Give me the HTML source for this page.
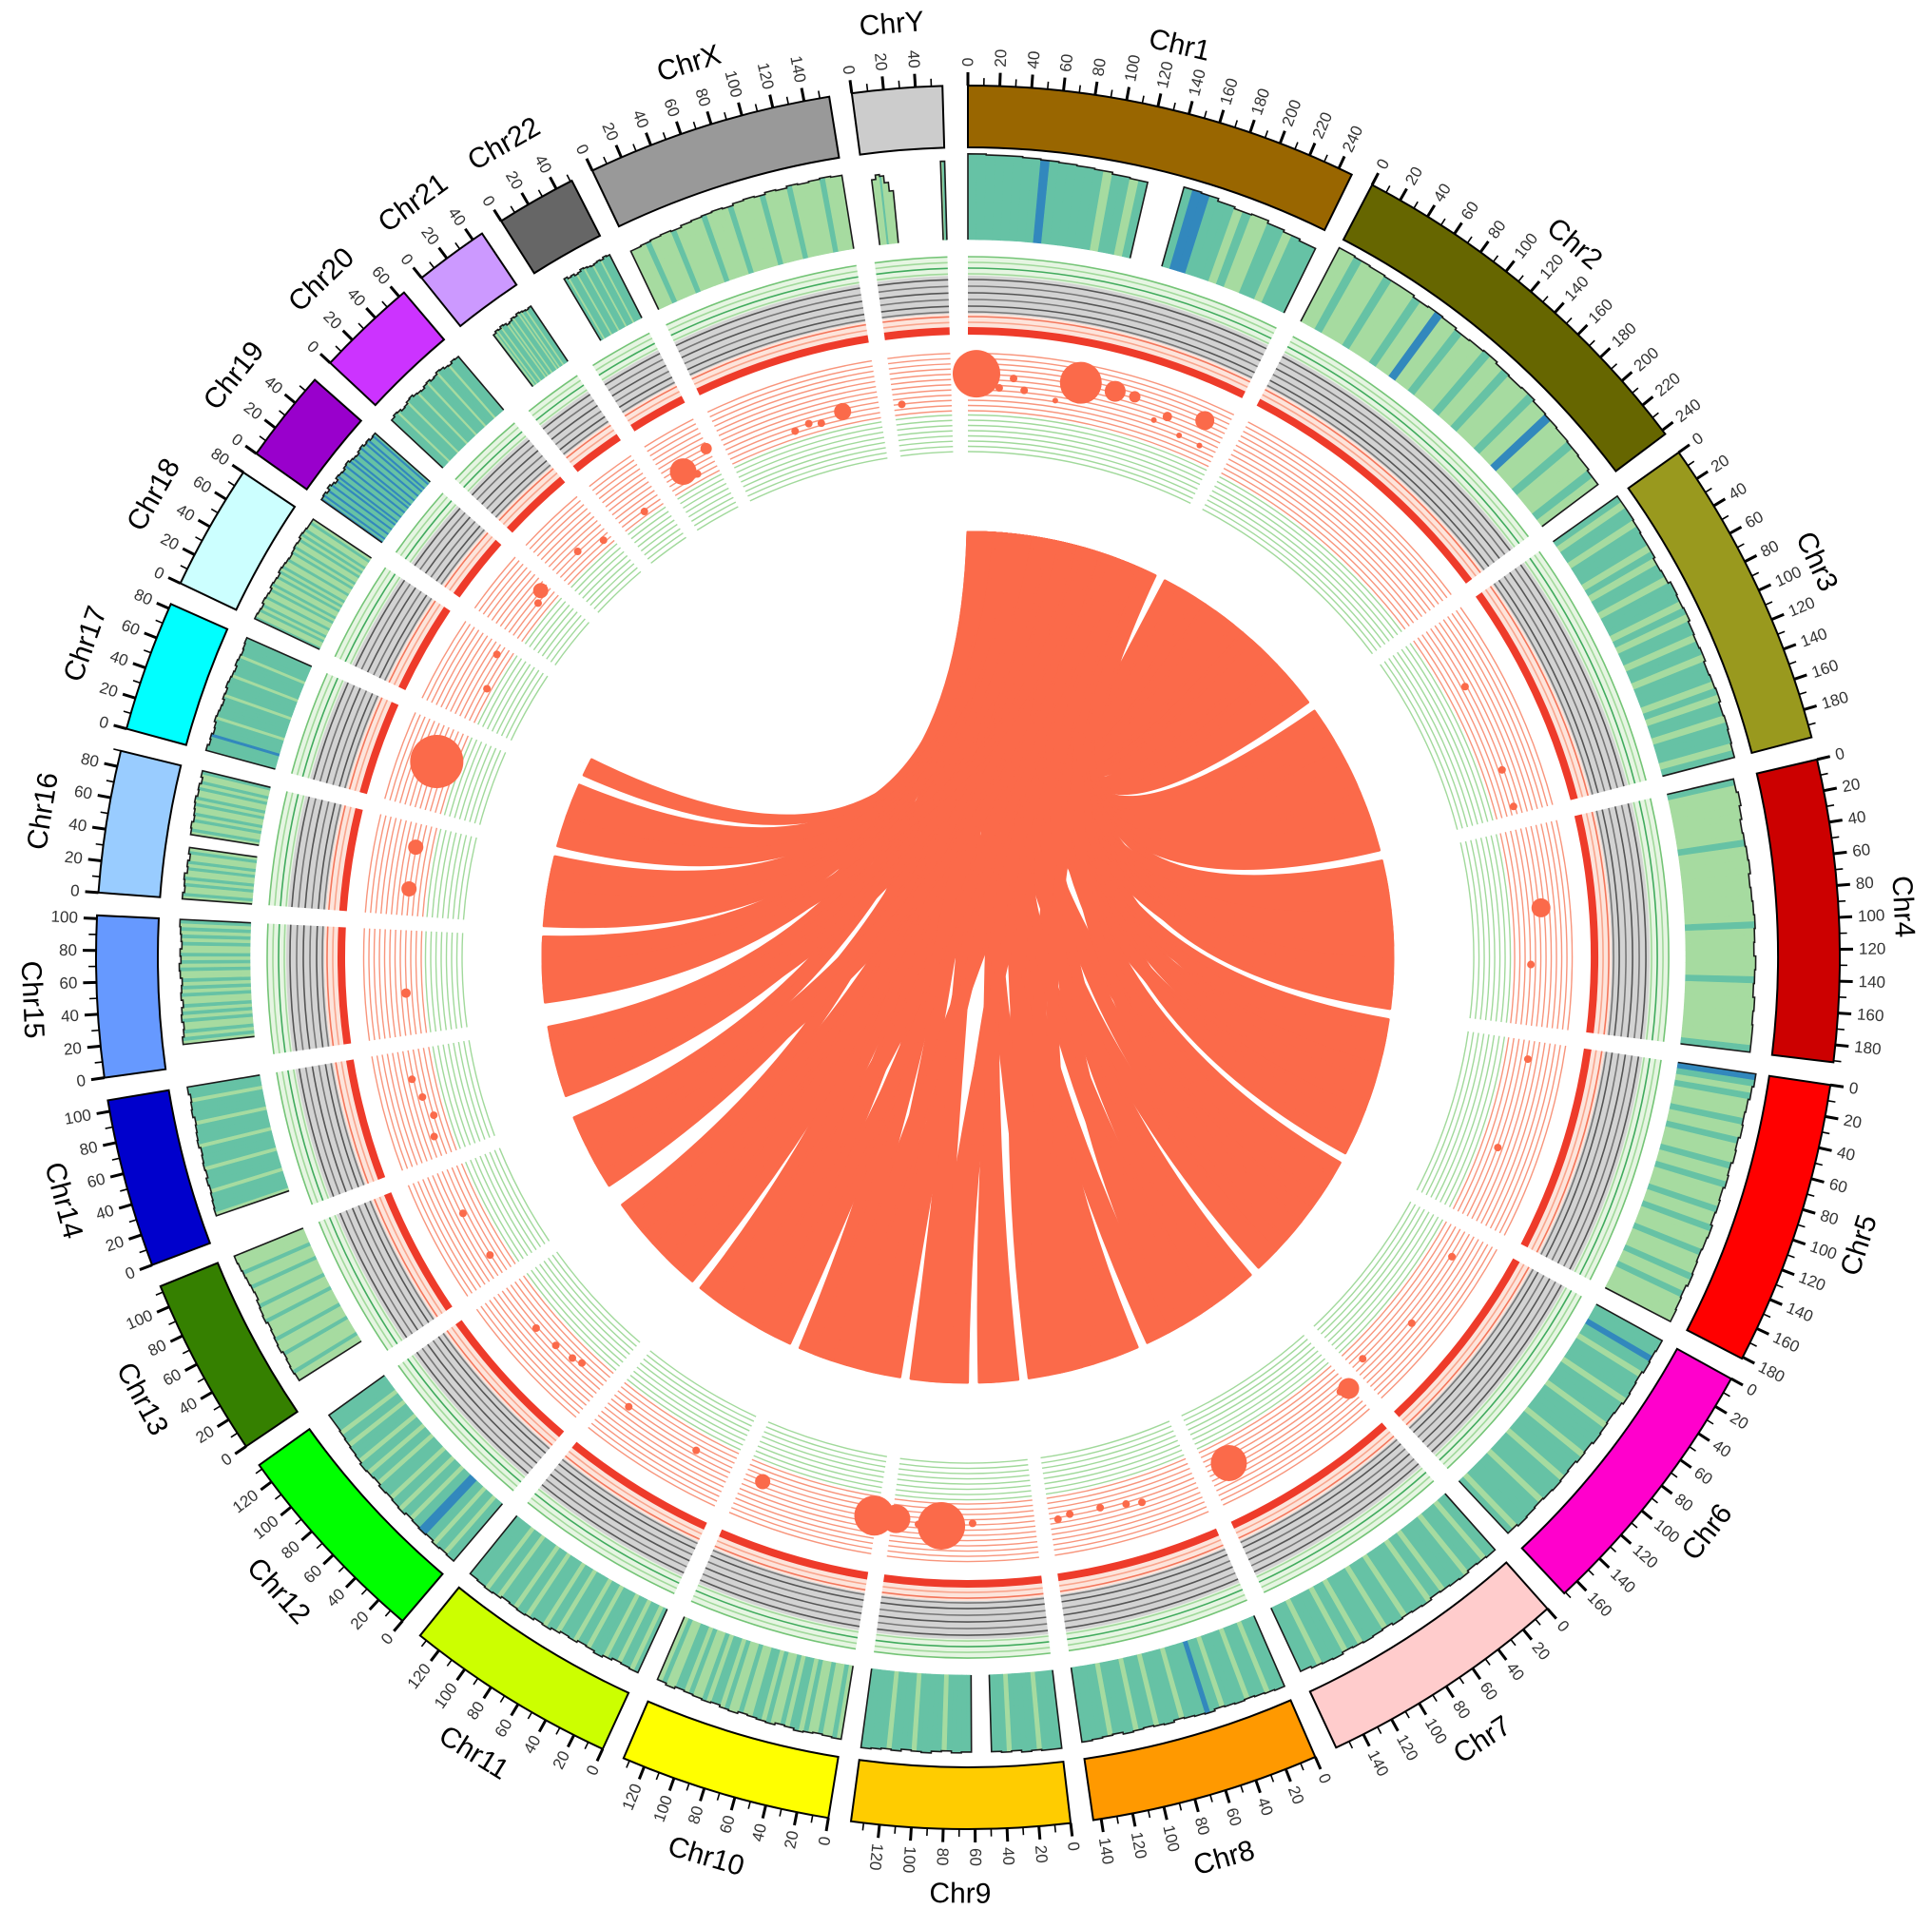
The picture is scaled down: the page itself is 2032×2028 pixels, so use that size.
<!DOCTYPE html>
<html><head><meta charset="utf-8"><title>Circos genome plot</title>
<style>
html,body{margin:0;padding:0;background:#fff;}
svg{display:block;font-family:"Liberation Sans",Arial,sans-serif;}
</style></head>
<body>
<svg id="chart" width="2032" height="2028" viewBox="0 0 2032 2028" xmlns="http://www.w3.org/2000/svg">
<rect x="0" y="0" width="2032" height="2028" fill="#ffffff"/>
<g id="chords"></g>
<g id="tracks"></g>
<g id="ideo"></g>
</svg>
<script>
// ---------- data ----------
const chrNames = ["Chr1","Chr2","Chr3","Chr4","Chr5","Chr6","Chr7","Chr8","Chr9","Chr10","Chr11","Chr12","Chr13","Chr14","Chr15","Chr16","Chr17","Chr18","Chr19","Chr20","Chr21","Chr22","ChrX","ChrY"];
const chrLens = [249,243,198,191,181,171,159,145,138,134,135,133,114,107,102,90,83,80,59,64,47,51,156,57];
const chrColors = ["#996600","#666600","#99991e","#cc0000","#ff0000","#ff00cc","#ffcccc","#ff9900","#ffcc00","#ffff00","#ccff00","#00ff00","#358000","#0000cc","#6699ff","#99ccff","#00ffff","#ccffff","#9900cc","#cc33ff","#cc99ff","#666666","#999999","#cccccc"];

const histVals = [
 [.98,.97,.97,.96,.95,.94,.93,.92,.9,.89,0,0,.94,.93,.9,.88,.89,.86,.84,.82],
 [.95,.94,.93,.92,.92,.9,.91,.9,.88,.89,.9,.88,.87,.88,.86,.85,.84,.83,.82,.8],
 [.9,.9,.89,.88,.88,.86,.87,.9,.89,.9,.88,.87,.88,.86,.87,.88,.86,.87,.86,.85],
 [.78,.8,.78,.76,.77,.78,.79,.77,.78,.79,.8,.79,.78,.8,.79,.78,.8,.79,.8,.8],
 [.9,.88,.86,.85,.86,.84,.85,.83,.84,.82,.83,.82,.84,.83,.82,.83,.84,.82,.83,.84],
 [.86,.85,.86,.84,.85,.86,.84,.83,.84,.85,.83,.84,.82,.83,.84,.83,.82,.83,.84,.82],
 [.86,.85,.84,.86,.85,.84,.83,.85,.84,.83,.84,.82,.83,.84,.83,.82,.84,.83,.82,.8],
 [.88,.87,.86,.85,.86,.85,.84,.86,.85,.84,.83,.85,.84,.83,.84,.85,.83,.84,.85,.86],
 [.9,.9,.89,.9,.88,.89,.88,0,0,.88,.89,.87,.88,.9,.89,.88,.9,.89,.9,.91],
 [.85,.84,.83,.84,.85,.83,.82,.84,.83,.82,.81,.83,.82,.8,.81,.8,.79,.78,.8,.78],
 [.8,.79,.78,.8,.82,.8,.79,.81,.8,.82,.84,.83,.85,.86,.85,.84,.86,.87,.86,.85],
 [.86,.85,.86,.84,.85,.84,.83,.85,.84,.83,.84,.82,.83,.84,.82,.81,.8,.79,.78,.78],
 [0,0,0,.84,.85,.84,.83,.85,.84,.83,.82,.84,.83,.82,.8,.81,.82,.83,.84,.85],
 [0,0,0,.88,.87,.86,.85,.86,.84,.85,.84,.83,.85,.84,.83,.82,.84,.83,.82,.84],
 [0,0,0,.82,.8,.79,.81,.8,.78,.8,.79,.78,.8,.81,.79,.8,.78,.79,.8,.81],
 [.8,.78,.79,.8,.77,.78,.76,.78,0,0,.79,.8,.78,.79,.8,.81,.79,.8,.78,.8],
 [.82,.8,.81,.79,.8,.82,.81,.8,.79,.81,.8,.82,.81,.8,.79,.81,.8,.79,.8,.81],
 [.82,.81,.8,.82,.81,.8,.82,.81,.8,.82,.81,.8,.79,.8,.81,.8,.82,.81,.8,.8],
 [.85,.86,.84,.87,.85,.83,.86,.85,.84,.86,.87,.85,.84,.83,.85,.86,.84,.85,.83,.84],
 [.8,.82,.81,.79,.8,.82,.83,.81,.8,.79,.81,.82,.8,.81,.83,.82,.8,.79,.81,.8],
 [0,0,0,0,0,0,.74,.76,.75,.77,.76,.74,.75,.77,.76,.78,.77,.76,.75,.76],
 [0,0,0,0,0,0,.82,.8,.81,.79,.8,.82,.81,.8,.79,.8,.81,.8,.82,.81],
 [.74,.75,.76,.77,.76,.78,.79,.8,.81,.8,.82,.83,.82,.84,.83,.85,.84,.85,.86,.85],
 [0,0,.75,.8,.78,.7,.6,0,0,0,0,0,0,0,0,0,0,0,0,.9]
];
const histColors = [
 "TTTTTTTTBTTTTTTLTTLTLLTTTBBTTTLTLLTTLTTT",
 "LLTLLLTLLLTLLBLLTLLLTLLTLLLTLLBLLLTLLLTL",
 "TLTTLTTTLTLTTLTTTLTLTTLTTLTTTLTLTTLTTTLT",
 "TLLLLLLLLTLLLLLLLLLLLTLLLLLLLTLLLLLLLLLT",
 "BTLTLLLTLLTLLLTLLTLLLTLLTLLLTLLLTLLTLLLL",
 "TTTBTTLTTTTLTTTTLTTTTTLTTTTLTTTTLTTTTTLT",
 "TTLTTTLTTTTLTTLTTTTLTTTLTTTTLTTLTTTTLTTT",
 "TTTLTTTLTTTTLTTBTTTTLTTTTLTTTLTTTTLTTTTT",
 "TTTTLTTTTTLTTTTTTLTTTTTLTTTTTLTTTTLTTTTT",
 "LTLLTLLTLTTLTLLTLTTLLTLLTLTTLTLLTLTTLLTL",
 "TLTTLTTLTTTLTTLTTTLTTLTTTLTTLTTTLTTLTTTT",
 "TTLTTLTTBBTTLTTLTTLTTTLTTLTTLTTTLTTLTTTT",
 "LLLLTLLLTLLLLTLLLTLLLLTLLLTLLLLTLLLTLLLL",
 "TTTTTTLTTTTTLTTTTTLTTTTTLTTTTTLTTTTTLTTT",
 "TLTLTLLTLTLLTLTLTLLTLTLTLLTLTLTLLTLTLTLT",
 "LTLLTLTLLTLTLLTLTLLTLTLLTLTLLTLTLLTLTLLT",
 "TTTTTBTTTTTLTTTTTTTLTTTTTTLTTTTTTLTTTTTT",
 "TLLTLTLLTLLTLTLLTLTLTLLTLLTLTLLTLTLTLLTL",
 "BTBTTBTTBTTBTBTTBTTBTTBTBTTBTTBTTBTBTTBT",
 "TTTTLTTTTTLTTTTTLTTTTTLTTTTTLTTTTTLTTTTT",
 "TTTTTTTTTTTTTLTLTTLTTTLTLTTLTTTLTLTTLTTT",
 "TTTTTTTTTTTTTTLTTTTLTTTTLTTTTLTTTTLTTTTT",
 "LLLTLLLLTLLLLLTLLLLTLLLLLTLLLLTLLLLLTLLL",
 "LLLLLLLLTLLLLLLLLLLLLLLLLLLLLLLLLLLLLLLT"
];

const bubChr  = [0,0,0,0,0,0,0,0,0,0,0,0,0, 22,22,22,22, 23, 21,21,21, 20, 19,19, 18,18, 17,17, 16,16,16,16, 15,15, 14, 13,13,13,13, 12,12, 11,11,11,11, 10,10, 9,9, 8,8,8,8, 7,7,7,7,7, 6,6,6,6, 5,5,5, 4,4, 3,3, 2,2,2];
const bubPos  = [8,43,30,54,85,106,139,158,193,182,227,210,232, 120,97,85,70, 8, 19,49,30, 27, 56,30, 51,40, 70,36, 48,52,60,30, 67,26, 41, 79,60,40,20, 69,21, 85,60,40,30, 117,39, 116,3, 134,112,90,60, 137,125,95,70,55, 137,150,2,10, 158,101,27, 108,18, 132,78, 190,153,65];
const bubVal  = [.64,.59,.42,.41,.31,.67,.66,.66,.52,.39,.69,.3,.28, .25,.15,.2,.15, .2, .3,.45,.15, .1, .15,.3, .3,.2, .25,.1, .35,.45,.5,.2, .3,.3, .3, .4,.3,.2,.3, .35,.3, .4,.35,.3,.25, .3,.3, .3,.35, .35,.4,.4,.35, .4,.35,.35,.4,.45, .4,.45,.5,.45, .3,.5,.4, .3,.4, .3,.5, .35,.35,.35];
const bubSize = [25,4,4,4,3,22,11,6,5,3,10,3,3, 9,4,4,4, 4, 14,6,4, 4, 4,4, 8,4, 4,4, 28,16,4,4, 8,8, 5, 4,4,4,4, 4,4, 4,4,4,4, 4,4, 8,21, 15,4,25,4, 4,4,4,4,4, 19,4,11,4, 4,4,4, 4,4, 4,10, 4,4,4];

const linkSrcChr = [0,0,0,0,0,0,0,0, 0,0,0,0,0,0, 0,0,0,0,0,0, 0,0,0,0,0,0, 0,0,0,0,0, 0,0,0,0,0, 0,0,0,0,0, 0,0,0,0, 0,0,0,0, 0,0,0,0, 0,0,0,0, 0,0,0, 0,0,0, 0,0,0, 0,0,0,
  0,0,0,0, 0,0,0, 0,0,0, 0,0,0, 0,0, 0,0, 0,0, 0,0, 0,0, 0,0, 0,0, 0,0, 0,0, 0,0, 0,0, 0,0,
  0,0, 23];
const linkSrc0 = [225,210,190,170,150,230,200,180, 160,215,140,195,120,175, 205,130,185,100,165,220, 110,190,80,150,60,200, 140,40,170,90,20, 70,120,30,180,0, 100,50,210,10,150, 60,120,160,20, 90,30,200,0, 130,45,170,10, 75,25,110,0, 55,140,15, 35,100,5, 20,80,0, 40,15,0,
  235,195,160,215, 170,130,205, 90,175,110, 60,180,125, 120,195, 150,50, 230,85, 100,200, 140,35, 175,60, 45,95, 185,25, 120,60, 85,5, 150,25,
  30,5, 35];
const linkSrc1 = [249,235,215,195,175,249,225,205, 185,240,165,220,145,200, 230,155,210,125,190,245, 135,215,105,175,85,225, 165,65,195,115,45, 95,145,55,205,25, 125,75,235,35,175, 85,140,185,45, 115,55,225,25, 155,70,195,35, 100,50,135,20, 80,165,40, 60,125,30, 45,105,22, 65,40,18,
  249,215,180,235, 190,150,225, 110,195,130, 80,200,145, 140,215, 170,70, 249,105, 120,220, 160,55, 195,80, 65,115, 205,45, 140,80, 105,25, 170,45,
  55,30, 57];
const linkTgtChr = [1,1,1,1,1,1,1,1, 2,2,2,2,2,2, 3,3,3,3,3,3, 4,4,4,4,4,4, 5,5,5,5,5, 6,6,6,6,6, 7,7,7,7,7, 8,8,8,8, 9,9,9,9, 10,10,10,10, 11,11,11,11, 12,12,12, 13,13,13, 14,14,14, 15,15,15,
  1,1,1,1, 2,2,2, 3,3,3, 4,4,4, 5,5, 6,6, 7,7, 8,8, 9,9, 10,10, 11,11, 12,12, 13,13, 14,14, 15,15,
  16,16, 17];
const linkTgt0 = [0,30,60,90,120,150,180,210, 0,30,60,90,120,150, 0,32,64,96,128,160, 0,30,60,90,120,150, 0,35,70,105,140, 0,32,64,96,128, 0,30,60,90,120, 0,35,65,100, 0,35,70,105, 0,35,70,105, 0,35,70,105, 16,50,85, 16,45,80, 18,50,80, 0,35,60,
  20,75,135,195, 20,80,140, 20,85,145, 20,80,135, 20,90, 20,80, 20,75, 20,90, 20,90, 20,90, 20,90, 35,75, 30,70, 35,70, 20,50,
  0,40, 0];
const linkTgt1 = [30,60,90,120,150,180,210,243, 30,60,90,120,150,198, 32,64,96,128,160,191, 30,60,90,120,150,181, 35,70,105,140,171, 32,64,96,128,159, 30,60,90,120,145, 35,50,100,138, 35,70,105,134, 35,70,105,135, 35,70,105,133, 50,85,114, 45,80,107, 50,80,102, 35,60,90,
  45,105,165,225, 45,110,170, 45,110,175, 45,105,165, 50,120, 45,110, 45,105, 40,115, 45,115, 45,115, 45,115, 65,100, 60,95, 65,95, 50,75,
  40,83, 22];

const tickStep = 20;

// ---------- geometry ----------
const CX = 1018, CY = 1007;
const DEG_PER_MB = 0.1049, GAP = 1.5;
const starts = [];
(function(){ let a = 0; for (let i = 0; i < chrLens.length; i++) { starts.push(a); a += chrLens[i]*DEG_PER_MB + GAP; } })();
function ang(c, pos){ return starts[c] + pos*DEG_PER_MB; }
function P(r, a){ const t = a*Math.PI/180; return [CX + r*Math.sin(t), CY - r*Math.cos(t)]; }
function f(p){ return p[0].toFixed(2)+","+p[1].toFixed(2); }
function sector(r1, r2, a1, a2){
  const lg = (a2-a1) > 180 ? 1 : 0;
  return "M"+f(P(r2,a1))+" A"+r2+","+r2+" 0 "+lg+" 1 "+f(P(r2,a2))+" L"+f(P(r1,a2))+" A"+r1+","+r1+" 0 "+lg+" 0 "+f(P(r1,a1))+" Z";
}
function arc(r, a1, a2){
  const lg = (a2-a1) > 180 ? 1 : 0;
  return "M"+f(P(r,a1))+" A"+r+","+r+" 0 "+lg+" 1 "+f(P(r,a2));
}
const NS = "http://www.w3.org/2000/svg";
function mk(tag, parent){ const e = document.createElementNS(NS, tag); parent.appendChild(e); return e; }

const gIdeo = document.getElementById("ideo");
const gTracks = document.getElementById("tracks");
const gChords = document.getElementById("chords");

const R_IDEO_IN = 852, R_IDEO_OUT = 917;
const R_HIST_IN = 755, R_HIST_OUT = 847;
const R_CHORD = 447;
const colMap = {T:"#66c2a5", L:"#a6dba0", B:"#3288bd"};

for (let c = 0; c < chrNames.length; c++) {
  const a0 = starts[c], a1 = ang(c, chrLens[c]);
  const mid = (a0+a1)/2;
  const g = mk("g", gIdeo);
  
  

  const blk = mk("path", g);
  blk.setAttribute("d", sector(R_IDEO_IN, R_IDEO_OUT, a0, a1));
  blk.setAttribute("fill", chrColors[c]);
  blk.setAttribute("stroke", "#000");
  blk.setAttribute("stroke-width", "2");
  
  

  const flip = mid > 185;
  for (let v = 0; v <= chrLens[c]; v += tickStep/2) {
    const a = ang(c, v);
    const major = (v % tickStep) === 0;
    const t = mk("line", g);
    const p1 = P(R_IDEO_OUT, a), p2 = P(R_IDEO_OUT + (major ? 14 : 8), a);
    t.setAttribute("x1", p1[0]); t.setAttribute("y1", p1[1]);
    t.setAttribute("x2", p2[0]); t.setAttribute("y2", p2[1]);
    t.setAttribute("stroke", "#000");
    t.setAttribute("stroke-width", major ? "3" : "1.6");
    
    
    if (major) {
      const lp = P(R_IDEO_OUT + 20, a);
      const tx = mk("text", g);
      tx.setAttribute("x", lp[0]); tx.setAttribute("y", lp[1]);
      tx.setAttribute("font-size", "17");
      tx.setAttribute("fill", "#333");
      tx.setAttribute("dominant-baseline", "central");
      tx.setAttribute("text-anchor", flip ? "end" : "start");
      tx.setAttribute("transform", "rotate(" + (flip ? a+90 : a-90) + " " + lp[0] + " " + lp[1] + ")");
      tx.textContent = String(v);
      
      
    }
  }

  const lp = P(985, mid);
  const top = (mid < 90 || mid > 270);
  const lab = mk("text", g);
  lab.setAttribute("x", lp[0]); lab.setAttribute("y", lp[1]);
  lab.setAttribute("font-size", "30");
  lab.setAttribute("fill", "#000");
  lab.setAttribute("text-anchor", "middle");
  lab.setAttribute("dominant-baseline", "central");
  lab.setAttribute("transform", "rotate(" + (top ? mid : mid-180) + " " + lp[0] + " " + lp[1] + ")");
  lab.textContent = chrNames[c];
  
  

  const hv = histVals[c], hc = histColors[c];
  const n = hv.length, ns = hc.length;
  const gh = mk("g", gTracks);
  
  
  for (let j = 0; j < ns; j++) {
    const h = hv[Math.floor(j*n/ns)];
    if (h <= 0) continue;
    const rt = R_HIST_IN + h*(R_HIST_OUT - R_HIST_IN);
    const b0 = ang(c, j*chrLens[c]/ns), b1 = ang(c, (j+1)*chrLens[c]/ns);
    const bar = mk("path", gh);
    bar.setAttribute("d", sector(R_HIST_IN, rt, b0, b1));
    bar.setAttribute("fill", colMap[hc[j]]);
    bar.setAttribute("stroke", colMap[hc[j]]);
    bar.setAttribute("stroke-width", "0.6");
    
    
  }
  let outline = "", drawing = false;
  const bw = chrLens[c]/n;
  for (let i = 0; i < n; i++) {
    const b0 = ang(c, i*bw), b1 = ang(c, (i+1)*bw);
    const h = hv[i];
    if (h > 0) {
      const rt = R_HIST_IN + h*(R_HIST_OUT - R_HIST_IN);
      if (!drawing) { outline += "M" + f(P(R_HIST_IN, b0)) + " L" + f(P(rt, b0)); drawing = true; }
      else outline += " L" + f(P(rt, b0));
      outline += " L" + f(P(rt, b1));
      if (i === n-1 || hv[i+1] === 0) { outline += " L" + f(P(R_HIST_IN, b1)); drawing = false; }
    }
  }
  const ol = mk("path", gh);
  ol.setAttribute("d", outline);
  ol.setAttribute("fill", "none");
  ol.setAttribute("stroke", "#1a1a1a");
  ol.setAttribute("stroke-width", "1.6");
  
  

  const gl = mk("g", gTracks);
  
  
  const bands = [[717,737,"#e6f5e2"],[677,717,"#d3d3d3"],[663,677,"#fde4db"],[655,663,"#ee3b2a"]];
  bands.forEach(function(bd){
    const s = mk("path", gl);
    s.setAttribute("d", sector(bd[0], bd[1], a0, a1));
    s.setAttribute("fill", bd[2]);
    
    
  });
  const lineSpecs = [[737,"#74c476"],[731,"#a1d99b"],[725,"#41ab5d"],[719,"#a1d99b"],
                     [713,"#555"],[706,"#777"],[699,"#555"],[692,"#777"],[685,"#555"],[679,"#777"],
                     [674,"#f4775c"],[668,"#f9a58d"]];
  lineSpecs.forEach(function(ls){
    const l = mk("path", gl);
    l.setAttribute("d", arc(ls[0], a0, a1));
    l.setAttribute("fill", "none");
    l.setAttribute("stroke", ls[1]);
    l.setAttribute("stroke-width", "1.6");
    
    
  });

  for (let k = 0; k < 12; k++) {
    const l = mk("path", gTracks);
    l.setAttribute("d", arc(575 + k*5.5, a0, a1));
    l.setAttribute("fill", "none");
    l.setAttribute("stroke", "#f8957c");
    l.setAttribute("stroke-width", "1.4");
    
    
  }
  for (let k = 0; k < 8; k++) {
    const l = mk("path", gTracks);
    l.setAttribute("d", arc(532 + k*5.5, a0, a1));
    l.setAttribute("fill", "none");
    l.setAttribute("stroke", "#a1d99b");
    l.setAttribute("stroke-width", "1.4");
    
    
  }
}

const R_SC_IN = 573, R_SC_OUT = 637;
for (let i = 0; i < bubChr.length; i++) {
  const a = ang(bubChr[i], bubPos[i]);
  const p = P(R_SC_IN + bubVal[i]*(R_SC_OUT - R_SC_IN), a);
  const cc = mk("circle", gTracks);
  cc.setAttribute("cx", p[0]); cc.setAttribute("cy", p[1]);
  cc.setAttribute("r", bubSize[i]);
  cc.setAttribute("fill", "#fb6a4a");
  
  
}

function ctrl(pa, pb){ const k = 0.05; return [CX + k*((pa[0]+pb[0])/2 - CX), CY + k*((pa[1]+pb[1])/2 - CY)]; }
for (let i = 0; i < linkSrc0.length; i++) {
  const sa = ang(linkSrcChr[i], linkSrc0[i]), sb = ang(linkSrcChr[i], linkSrc1[i]);
  const ta = ang(linkTgtChr[i], linkTgt0[i]), tb = ang(linkTgtChr[i], linkTgt1[i]);
  const pSa = P(R_CHORD, sa), pSb = P(R_CHORD, sb), pTa = P(R_CHORD, ta), pTb = P(R_CHORD, tb);
  const d = "M" + f(pSa) + " A" + R_CHORD + "," + R_CHORD + " 0 0 1 " + f(pSb) +
            " Q" + f(ctrl(pSb, pTa)) + " " + f(pTa) +
            " A" + R_CHORD + "," + R_CHORD + " 0 0 1 " + f(pTb) +
            " Q" + f(ctrl(pTb, pSa)) + " " + f(pSa) + " Z";
  const ch = mk("path", gChords);
  ch.setAttribute("d", d);
  ch.setAttribute("fill", "#fb6a4a");
  ch.setAttribute("stroke", "#fb6a4a");
  ch.setAttribute("stroke-width", "3");
  ch.setAttribute("stroke-linejoin", "round");
  
  
}
</script>
</body></html>
